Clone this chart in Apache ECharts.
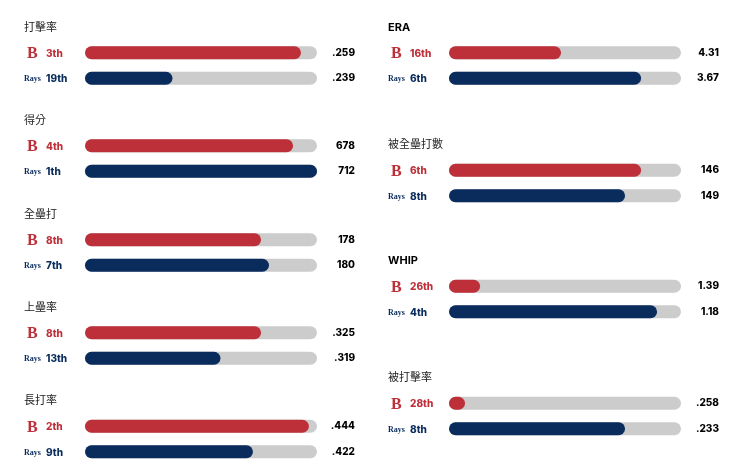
<!DOCTYPE html>
<html>
<head>
<meta charset="utf-8">
<style>html,body{margin:0;padding:0;background:#fff}#main{width:740px;height:476px}</style>
<script src="https://cdn.jsdelivr.net/npm/echarts@6/dist/echarts.min.js"></script>
</head>
<body>
<div id="main"></div>
<script>
var titles = ['打擊率', '得分', '全壘打', '上壘率', '長打率', 'ERA', '被全壘打數', 'WHIP', '被打擊率'];
var teamRed = 'B';
var teamBlue = 'Rays';
var redRanks = ['3th', '4th', '8th', '8th', '2th', '16th', '6th', '26th', '28th'];
var blueRanks = ['19th', '1th', '7th', '13th', '9th', '6th', '8th', '4th', '8th'];
// bar length, percent of the grey track
var redBars = [93.1, 89.7, 75.9, 75.9, 96.5, 48.3, 82.8, 13.4, 6.9];
var blueBars = [37.7, 100, 79.3, 58.4, 72.4, 82.8, 75.9, 89.7, 75.9];
var redValues = ['.259', '678', '178', '.325', '.444', '4.31', '146', '1.39', '.258'];
var blueValues = ['.239', '712', '180', '.319', '.422', '3.67', '149', '1.18', '.233'];

var RED = '#bd3039', BLUE = '#092c5c', TRACK = '#cccccc';
var LATIN = 'Inter, "Noto Sans CJK TC", sans-serif';

// panel placement: x of the title, x of the bar, top of the grid
var titleX = [24, 24, 24, 24, 24, 388, 388, 388, 388];
var barX = [85, 85, 85, 85, 85, 449, 449, 449, 449];
var gridTop = [40, 133, 227, 320, 413.5, 40, 157.5, 273.5, 390.5];

var chart = echarts.init(document.getElementById('main'), null, { renderer: 'canvas' });

var title = [], grid = [], xAxis = [], yAxis = [], series = [];
titles.forEach(function (t, i) {
    var cjk = /[^\x00-\x7f]/.test(t);
    title.push({
        text: t,
        left: titleX[i],
        top: gridTop[i] - 18,
        padding: 0,
        textStyle: {
            fontFamily: LATIN,
            fontSize: 11,
            fontWeight: cjk ? 400 : 700,
            color: cjk ? '#222' : '#000'
        }
    });
    grid.push({ left: barX[i], top: gridTop[i], width: 232, height: 51 });
    xAxis.push({ gridIndex: i, type: 'value', min: 0, max: 100, show: false });
    yAxis.push({
        gridIndex: i,
        type: 'category',
        inverse: true,
        data: [redRanks[i], blueRanks[i]],
        axisLine: { show: false },
        axisTick: { show: false },
        axisLabel: {
            align: 'left',
            margin: 61,
            formatter: function (v, idx) {
                return idx === 0 ? '{b|' + teamRed + '}{r|' + v + '}' : '{k|' + teamBlue + '}{n|' + v + '}';
            },
            rich: {
                b: { width: 19, align: 'left', padding: [3, 0, 0, 3], fontFamily: 'Liberation Serif', fontWeight: 700, fontSize: 16, color: RED },
                k: { width: 22, align: 'left', padding: [2, 0, 0, 0], fontFamily: 'Liberation Serif', fontWeight: 700, fontSize: 8, color: BLUE },
                r: { padding: [2, 0, 0, 0], fontFamily: LATIN, fontWeight: 800, fontSize: 10, color: RED },
                n: { padding: [2, 0, 0, 0], fontFamily: LATIN, fontWeight: 800, fontSize: 10, color: BLUE }
            }
        }
    }, {
        gridIndex: i,
        type: 'category',
        inverse: true,
        position: 'right',
        data: [redValues[i], blueValues[i]],
        axisLine: { show: false },
        axisTick: { show: false },
        axisLabel: {
            align: 'right',
            margin: 38,
            padding: [4, 0, 0, 0],
            fontFamily: LATIN,
            fontWeight: 800,
            fontSize: 10,
            color: '#000'
        }
    });
    series.push({
        type: 'bar',
        xAxisIndex: i,
        yAxisIndex: i * 2,
        barWidth: 13,
        silent: true,
        showBackground: true,
        backgroundStyle: { color: TRACK, borderRadius: 6.5 },
        itemStyle: { borderRadius: 6.5 },
        data: [
            { value: redBars[i], itemStyle: { color: RED } },
            { value: blueBars[i], itemStyle: { color: BLUE } }
        ]
    });
});

chart.setOption({
    animation: false,
    backgroundColor: '#fff',
    title: title,
    grid: grid,
    xAxis: xAxis,
    yAxis: yAxis,
    series: series
});
</script>
</body>
</html>
